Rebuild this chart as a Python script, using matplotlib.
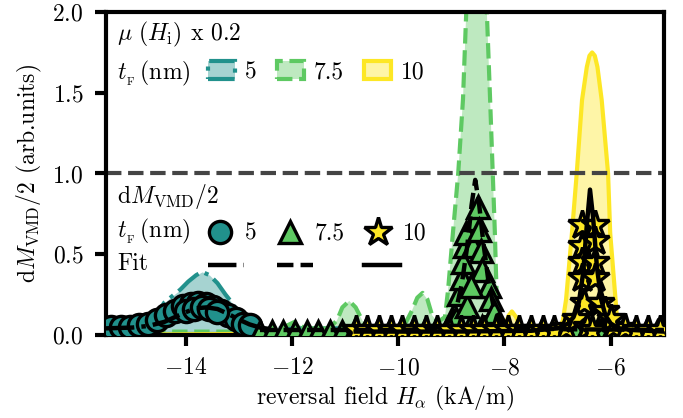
import matplotlib
matplotlib.use("Agg")
import matplotlib.pyplot as plt
from matplotlib.colors import to_rgba
from matplotlib.patches import Patch
from matplotlib.lines import Line2D

plt.rcParams['font.family'] = 'serif'
plt.rcParams['font.serif'] = ['cmr10']
plt.rcParams['mathtext.fontset'] = 'cm'
plt.rcParams['axes.formatter.use_mathtext'] = True
plt.rcParams['font.size'] = 8.5

c_teal = "#21918c"
c_green = "#5ec962"
c_yellow = "#fde725"

# mu(H_i) x 0.2 curves
mu5_x = [-15.5, -15.0, -14.8, -14.65, -14.5, -14.4, -14.25, -14.1, -13.95, -13.8, -13.69, -13.55,
         -13.4, -13.25, -13.13, -13.0, -12.85, -12.64, -12.0, -11.0, -10.0, -9.0, -8.0, -7.0,
         -6.5, -6.3, -6.1, -5.0]
mu5_y = [0.04, 0.04, 0.05, 0.08, 0.15, 0.20, 0.24, 0.28, 0.33, 0.37, 0.39, 0.37,
         0.32, 0.25, 0.20, 0.13, 0.08, 0.04, 0.04, 0.04, 0.04, 0.03, 0.03, 0.03,
         0.04, 0.08, 0.04, 0.03]

mu75_x = [-15.5, -12.6, -12.2, -11.95, -11.75, -11.3, -11.15, -11.05, -10.92, -10.8, -10.66, -10.5,
          -10.0, -9.85, -9.74, -9.64, -9.54, -9.45, -9.36, -9.25, -9.12, -9.06, -8.97, -8.87,
          -8.78, -8.72, -8.65, -8.53, -8.42, -8.33, -8.27, -8.22, -8.18, -8.15, -8.12, -8.0,
          -7.0, -6.5, -6.3, -6.1, -5.0]
mu75_y = [0.02, 0.02, 0.04, 0.08, 0.04, 0.04, 0.09, 0.17, 0.21, 0.17, 0.08, 0.04,
          0.04, 0.08, 0.15, 0.23, 0.26, 0.22, 0.12, 0.08, 0.11, 0.28, 0.63, 1.00,
          1.46, 1.99, 2.60, 2.90, 2.60, 1.99, 1.46, 1.00, 0.63, 0.28, 0.11, 0.04,
          0.03, 0.05, 0.08, 0.05, 0.03]

mu10_x = [-15.5, -10.8, -10.5, -8.2, -8.0, -7.92, -7.86, -7.78, -7.7, -7.0, -6.95, -6.9,
          -6.84, -6.73, -6.64, -6.54, -6.45, -6.40, -6.35, -6.30, -6.25, -6.17, -6.05, -6.01,
          -5.91, -5.88, -5.8, -5.0]
mu10_y = [0.0, 0.01, 0.03, 0.03, 0.05, 0.12, 0.145, 0.11, 0.04, 0.03, 0.05, 0.09,
          0.22, 0.63, 1.00, 1.455, 1.66, 1.73, 1.75, 1.73, 1.66, 1.455, 1.00, 0.63,
          0.22, 0.09, 0.04, 0.03]

# dM_VMD/2 data
circ_x = [-15.4, -15.22, -15.05, -14.88, -14.7, -14.53, -14.36, -14.2, -14.05, -13.9, -13.76, -13.62,
          -13.48, -13.34, -13.2, -13.06, -12.92, -12.78, -14.0, -13.85, -13.7, -13.55, -13.4]
circ_y = [0.05, 0.05, 0.05, 0.06, 0.07, 0.09, 0.12, 0.15, 0.18, 0.19, 0.20, 0.19,
          0.17, 0.15, 0.12, 0.10, 0.07, 0.06, 0.15, 0.16, 0.17, 0.16, 0.14]

tri_x = [-12.6, -12.38, -12.16, -11.94, -11.72, -11.5, -11.28, -11.06, -10.84, -10.62, -10.4, -10.18,
         -9.96, -9.74, -9.52, -9.3, -9.08, -8.86, -8.64, -8.42, -8.2, -7.98, -7.76, -7.54,
         -7.32, -7.1, -6.88, -6.66, -6.44, -6.22, -6.0, -5.78, -5.56, -5.34, -5.12,
         -8.95, -8.85, -8.8, -8.78, -8.75, -8.72, -8.6, -8.55, -8.5, -8.48, -8.45, -8.42,
         -8.3, -8.25, -8.2, -8.7, -8.62]
tri_y = [0.02, 0.02, 0.02, 0.02, 0.02, 0.02, 0.02, 0.02, 0.02, 0.02, 0.02, 0.02,
         0.02, 0.02, 0.02, 0.02, 0.03, 0.05, 0.05, 0.05, 0.04, 0.02, 0.02, 0.02,
         0.02, 0.02, 0.02, 0.02, 0.03, 0.03, 0.02, 0.02, 0.02, 0.02, 0.02,
         0.12, 0.25, 0.35, 0.45, 0.55, 0.63, 0.55, 0.72, 0.79, 0.65, 0.52, 0.40,
         0.30, 0.22, 0.14, 0.18, 0.30]

star_x = [-10.8, -10.58, -10.36, -10.14, -9.92, -9.7, -9.48, -9.26, -9.04, -8.82, -8.6, -8.38,
          -8.16, -7.94, -7.72, -7.5, -7.28, -7.06, -6.84, -5.96, -5.74, -5.52, -5.3, -5.08,
          -6.55, -6.3, -6.55, -6.3, -6.55, -6.3, -6.55, -6.3, -6.5, -6.2, -6.1, -6.0,
          -6.65, -6.45, -6.35]
star_y = [0.03, 0.03, 0.03, 0.03, 0.03, 0.03, 0.03, 0.03, 0.03, 0.03, 0.03, 0.03,
          0.03, 0.03, 0.03, 0.03, 0.03, 0.03, 0.04, 0.05, 0.04, 0.03, 0.03, 0.03,
          0.68, 0.68, 0.55, 0.58, 0.45, 0.45, 0.35, 0.35, 0.20, 0.20, 0.15, 0.10,
          0.10, 0.05, 0.03]

# fits
fit5_x = [-15.5, -15.0, -14.7, -14.4, -14.2, -14.0, -13.8, -13.6, -13.4, -13.2, -13.0, -12.8, -12.6, -12.4]
fit5_y = [0.04, 0.045, 0.055, 0.08, 0.11, 0.14, 0.165, 0.17, 0.16, 0.13, 0.095, 0.065, 0.045, 0.035]

fit75_x = [-12.6, -11.0, -10.0, -9.4, -9.2, -9.05, -8.9, -8.8, -8.7, -8.62, -8.55, -8.48, -8.4,
           -8.3, -8.2, -8.05, -7.9, -7.0, -5.0]
fit75_y = [0.03, 0.03, 0.03, 0.035, 0.05, 0.08, 0.17, 0.32, 0.55, 0.80, 0.96, 0.82, 0.58,
           0.33, 0.17, 0.08, 0.05, 0.035, 0.03]

fit10_x = [-10.8, -9.0, -7.5, -7.0, -6.8, -6.7, -6.6, -6.52, -6.45, -6.39, -6.33, -6.26, -6.18,
           -6.1, -6.0, -5.85, -5.6, -5.0]
fit10_y = [0.02, 0.02, 0.025, 0.04, 0.07, 0.11, 0.2, 0.38, 0.68, 0.90, 0.72, 0.42, 0.22,
           0.12, 0.07, 0.04, 0.03, 0.02]

thick_labels = ["5", "7.5", "10"]

fig = plt.figure(figsize=(3.415, 2.09), dpi=200)
ax = fig.add_axes([0.155, 0.199, 0.817, 0.772])

for x, y, c, ls in [(mu5_x, mu5_y, c_teal, "-."), (mu75_x, mu75_y, c_green, "--"),
                    (mu10_x, mu10_y, c_yellow, "-")]:
    ax.fill_between(x, y, color=c, alpha=0.4, lw=0, zorder=1)
    ax.plot(x, y, ls, color=c, lw=1.5, zorder=2)

ax.axhline(1.0, color="#444444", ls="--", lw=1.5, zorder=2)

ax.plot(circ_x, circ_y, "o", ms=8, mfc=c_teal, mec="k", mew=1.2, zorder=3)
ax.plot(tri_x, tri_y, "^", ms=8, mfc=c_green, mec="k", mew=1.2, zorder=3)
ax.plot(star_x, star_y, "*", ms=10.5, mfc=c_yellow, mec="k", mew=1.2, zorder=4)

fit_lw = 1.6
ax.plot(fit5_x, fit5_y, "-.", color="k", lw=fit_lw, zorder=5)
ax.plot(fit75_x, fit75_y, "--", color="k", lw=fit_lw, zorder=5)
ax.plot(fit10_x, fit10_y, "-", color="k", lw=fit_lw, zorder=5)

ax.set_xlim(-15.5, -5)
ax.set_ylim(0, 2.0)
ax.set_xticks([-14, -12, -10, -8, -6])
ax.set_yticks([0.0, 0.5, 1.0, 1.5, 2.0])
for s in ax.spines.values():
    s.set_linewidth(1.5)
ax.tick_params(direction="out", length=3.9, width=1.5, pad=4.2, labelsize=8.5)
ax.set_xlabel(r"reversal field $H_\alpha$ (kA/m)", labelpad=1.5)
ax.set_ylabel(r"d$M_{\rm VMD}/2$ (arb.units)", labelpad=3)

tF = r"$t_{_{\rm F}}\,$(nm)"

# legend for mu curves
ax.text(0.0197, 0.911, r"$\mu\ (H_{\rm i})$ x 0.2", transform=ax.transAxes, va="baseline")
ax.text(0.0197, 0.793, tF, transform=ax.transAxes, va="baseline")
mu_handles = [Patch(facecolor=to_rgba(c_teal, 0.4), edgecolor=c_teal, ls="-.", lw=1.5),
              Patch(facecolor=to_rgba(c_green, 0.4), edgecolor=c_green, ls="--", lw=1.5),
              Patch(facecolor=to_rgba(c_yellow, 0.4), edgecolor=c_yellow, ls="-", lw=1.5)]
leg1 = ax.legend(mu_handles, thick_labels, ncol=3, loc="center left",
                 bbox_to_anchor=(0.1828, 0.813), frameon=False, borderpad=0, borderaxespad=0,
                 handlelength=1.14, handleheight=0.8, handletextpad=0.42, columnspacing=0.86)
ax.add_artist(leg1)

# legend for data + fits
ax.text(0.0197, 0.409, r"d$M_{\rm VMD}/2$", transform=ax.transAxes, va="baseline")
ax.text(0.0197, 0.303, tF, transform=ax.transAxes, va="baseline")
ax.text(0.0197, 0.201, "Fit", transform=ax.transAxes, va="baseline")
marker_handles = [
    Line2D([], [], ls="none", marker="o", ms=8, mfc=c_teal, mec="k", mew=1.2),
    Line2D([], [], ls="none", marker="^", ms=8, mfc=c_green, mec="k", mew=1.2),
    Line2D([], [], ls="none", marker="*", ms=10.5, mfc=c_yellow, mec="k", mew=1.2),
]
leg2 = ax.legend(marker_handles, thick_labels, ncol=3, loc="center left",
                 bbox_to_anchor=(0.1828, 0.313), frameon=False, borderpad=0, borderaxespad=0,
                 handlelength=1.02, handletextpad=0.55, columnspacing=0.9, numpoints=1)
ax.add_artist(leg2)

fit_handles = [Line2D([], [], ls="-.", color="k", lw=fit_lw),
               Line2D([], [], ls="--", color="k", lw=fit_lw),
               Line2D([], [], ls="-", color="k", lw=fit_lw)]
leg3 = ax.legend(fit_handles, thick_labels, ncol=3, loc="center left",
                 bbox_to_anchor=(0.1828, 0.21), frameon=False, borderpad=0, borderaxespad=0,
                 handlelength=1.53, handletextpad=0.08, columnspacing=0.81)
for t in leg3.get_texts():
    t.set_alpha(0)

fig.savefig("out.png", dpi=200)
